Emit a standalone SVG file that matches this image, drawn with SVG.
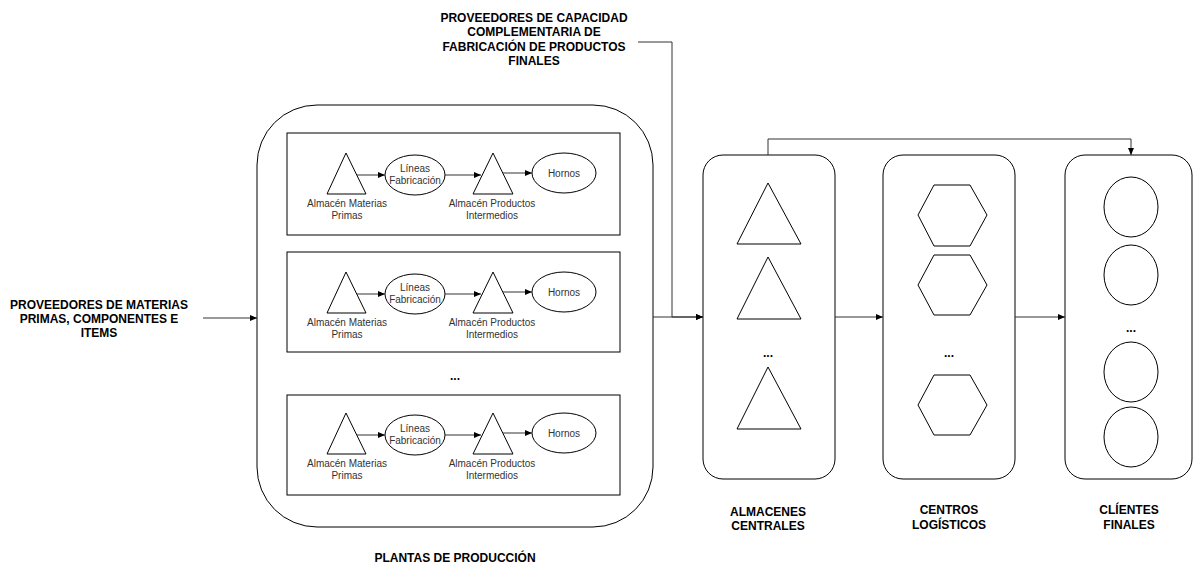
<svg xmlns="http://www.w3.org/2000/svg" width="1193" height="566" viewBox="0 0 1193 566">
<style>
.s{fill:#fff;stroke:#000;stroke-width:1}
.c{fill:none;stroke:#333;stroke-width:1}
.b{font-family:"Liberation Sans",Arial,sans-serif;font-size:12px;font-weight:bold;text-anchor:middle;fill:#000}
.t{font-family:"Liberation Sans",Arial,sans-serif;font-size:10px;text-anchor:middle;fill:#333}
</style>
<defs>
<marker id="a" markerUnits="userSpaceOnUse" markerWidth="7" markerHeight="6" refX="7" refY="3" orient="auto">
<path d="M0,0 L7,3 L0,6 z" fill="#000"/>
</marker>
</defs>
<rect width="1193" height="566" fill="#fff"/>

<g id="prov-mp">
<text class="b" x="99" y="309">PROVEEDORES DE MATERIAS</text>
<text class="b" x="99" y="323">PRIMAS, COMPONENTES E</text>
<text class="b" x="99" y="337">ITEMS</text>
</g>

<g id="prov-cap">
<text class="b" x="534" y="22">PROVEEDORES DE CAPACIDAD</text>
<text class="b" x="534" y="36">COMPLEMENTARIA DE</text>
<text class="b" x="534" y="51">FABRICACIÓN DE PRODUCTOS</text>
<text class="b" x="534" y="65">FINALES</text>
</g>

<g id="plantas">
<rect class="s" x="257" y="105" width="396" height="422" rx="60"/>
<text class="b" x="455" y="562">PLANTAS DE PRODUCCIÓN</text>
<text class="b" x="455" y="380">...</text>
</g>

<g id="planta1" transform="translate(0,133)">
<rect class="s" x="287" y="0" width="333" height="102"/>
<polygon class="s" points="346,20 327,61 366,61"/>
<text class="t" x="347" y="74">Almacén Materias</text>
<text class="t" x="347" y="86">Primas</text>
<ellipse class="s" cx="415" cy="42" rx="30" ry="20"/>
<text class="t" x="415" y="39">Líneas</text>
<text class="t" x="415" y="51">Fabricación</text>
<polygon class="s" points="493,20 473,61 513,61"/>
<text class="t" x="492" y="74">Almacén Productos</text>
<text class="t" x="492" y="86">Intermedios</text>
<ellipse class="s" cx="564" cy="40" rx="32" ry="20"/>
<text class="t" x="564" y="44">Hornos</text>
<path class="c" d="M357,42 H385" marker-end="url(#a)"/>
<path class="c" d="M445,42 H481" marker-end="url(#a)"/>
<path class="c" d="M503,40 H532" marker-end="url(#a)"/>
</g>

<g id="planta2" transform="translate(0,252)">
<rect class="s" x="287" y="0" width="333" height="100"/>
<polygon class="s" points="346,20 327,61 366,61"/>
<text class="t" x="347" y="74">Almacén Materias</text>
<text class="t" x="347" y="86">Primas</text>
<ellipse class="s" cx="415" cy="42" rx="30" ry="20"/>
<text class="t" x="415" y="39">Líneas</text>
<text class="t" x="415" y="51">Fabricación</text>
<polygon class="s" points="493,20 473,61 513,61"/>
<text class="t" x="492" y="74">Almacén Productos</text>
<text class="t" x="492" y="86">Intermedios</text>
<ellipse class="s" cx="564" cy="40" rx="32" ry="20"/>
<text class="t" x="564" y="44">Hornos</text>
<path class="c" d="M357,42 H385" marker-end="url(#a)"/>
<path class="c" d="M445,42 H481" marker-end="url(#a)"/>
<path class="c" d="M503,40 H532" marker-end="url(#a)"/>
</g>

<g id="planta3" transform="translate(0,395)">
<rect class="s" x="287" y="0" width="333" height="100"/>
<polygon class="s" points="346,18 327,59 366,59"/>
<text class="t" x="347" y="72">Almacén Materias</text>
<text class="t" x="347" y="84">Primas</text>
<ellipse class="s" cx="415" cy="40" rx="30" ry="20"/>
<text class="t" x="415" y="37">Líneas</text>
<text class="t" x="415" y="49">Fabricación</text>
<polygon class="s" points="493,18 473,59 513,59"/>
<text class="t" x="492" y="72">Almacén Productos</text>
<text class="t" x="492" y="84">Intermedios</text>
<ellipse class="s" cx="564" cy="38" rx="32" ry="20"/>
<text class="t" x="564" y="42">Hornos</text>
<path class="c" d="M357,40 H385" marker-end="url(#a)"/>
<path class="c" d="M445,40 H481" marker-end="url(#a)"/>
<path class="c" d="M503,38 H532" marker-end="url(#a)"/>
</g>

<g id="almacenes">
<rect class="s" x="703" y="155" width="132" height="324" rx="20"/>
<polygon class="s" points="768,183 737,244 801,244"/>
<polygon class="s" points="768,257 737,319 801,319"/>
<text class="b" x="768" y="357">...</text>
<polygon class="s" points="768,367 737,429 801,429"/>
<text class="b" x="768" y="516">ALMACENES</text>
<text class="b" x="768" y="530">CENTRALES</text>
</g>

<g id="centros">
<rect class="s" x="883" y="155" width="132" height="324" rx="20"/>
<polygon class="s" points="918,215 934,185 970,185 987,215 970,246 934,246"/>
<polygon class="s" points="918,285 934,255 970,255 987,285 970,315 934,315"/>
<text class="b" x="949" y="357">...</text>
<polygon class="s" points="918,405 934,375 970,375 987,405 970,435 934,435"/>
<text class="b" x="949" y="514">CENTROS</text>
<text class="b" x="949" y="529">LOGÍSTICOS</text>
</g>

<g id="clientes">
<rect class="s" x="1065" y="155" width="127" height="324" rx="20"/>
<ellipse class="s" cx="1131" cy="207" rx="27" ry="30"/>
<ellipse class="s" cx="1131" cy="275" rx="27" ry="30"/>
<text class="b" x="1131" y="332">...</text>
<ellipse class="s" cx="1131" cy="372" rx="27" ry="30"/>
<ellipse class="s" cx="1131" cy="437" rx="27" ry="30"/>
<text class="b" x="1129" y="514">CLÍENTES</text>
<text class="b" x="1129" y="529">FINALES</text>
</g>

<g id="connectors">
<path class="c" d="M203,318 H257" marker-end="url(#a)"/>
<path class="c" d="M638,42 H672 V317 H703" marker-end="url(#a)"/>
<path class="c" d="M653,317 H703" marker-end="url(#a)"/>
<path class="c" d="M835,317 H883" marker-end="url(#a)"/>
<path class="c" d="M1015,317 H1065" marker-end="url(#a)"/>
<path class="c" d="M768,155 V139 H1131 V155" marker-end="url(#a)"/>
</g>
</svg>
